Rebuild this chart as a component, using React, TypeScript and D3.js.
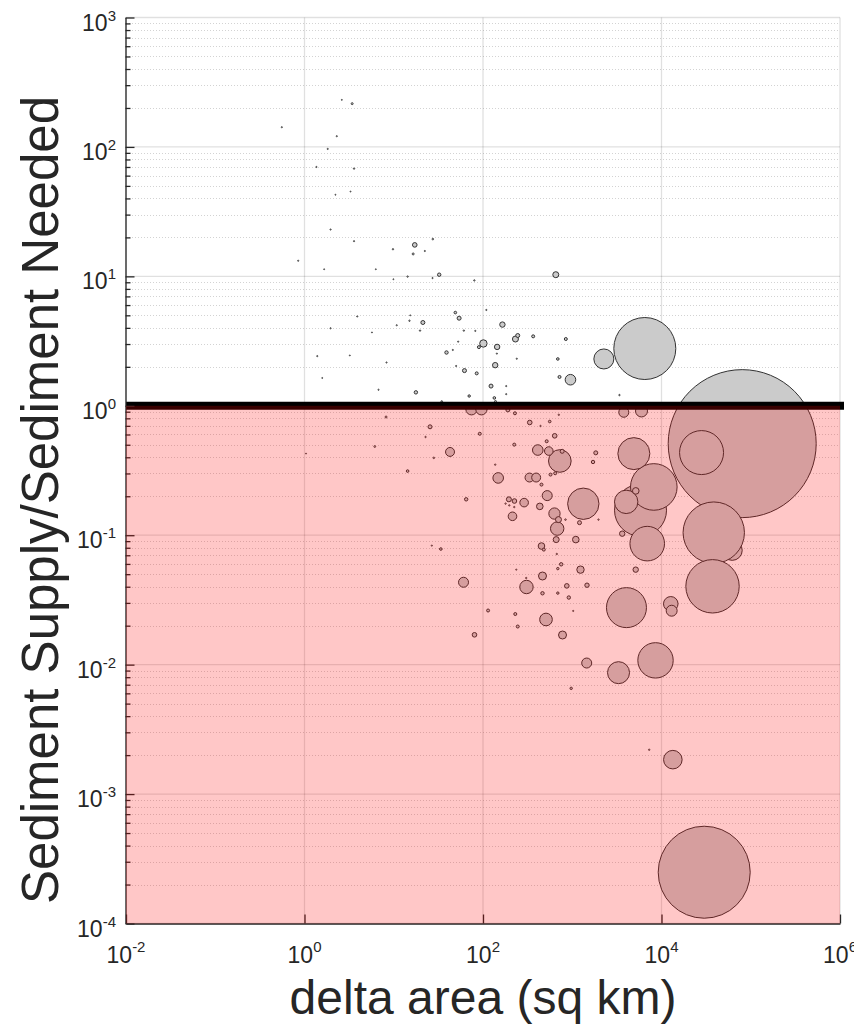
import { useRef, useEffect } from "react";
import * as d3 from "d3";

// delta area (sq km), sediment supply / sediment needed, bubble size (arbitrary units)
const deltaArea = [
    6500, 2260, 955, 654, 17.2, 27.4, 16.5, 22.3, 9.8, 3.59,
    32.3, 27.2, 14.3, 9.9, 80, 109, 49, 54, 3.9, 1.96,
    21.2, 15, 10.8, 19.7, 61, 82, 165, 245, 231, 365,
    847, 101, 90, 144, 52.7, 39, 45.9, 143, 239, 689,
    1.39, 5.7, 137, 50, 62, 85, 720, 8.3, 123, 182,
    182, 17.7, 6.75, 70, 134, 138, 34.5, 3380, 3.42, 2.62,
    0.557, 2.3, 1.82, 1.36, 3.59, 2.22, 3.28, 1.96, 0.85, 1.66,
    6.3, 3.22, 1.58, 15.3,
    80200, 28100, 4900, 8200, 5820, 4020, 5150, 1330, 6920, 38500,
    62000, 37300, 4050, 12700, 13000, 3630, 1096, 1237, 5140, 869,
    1463, 915, 778, 3780, 5970, 1835, 1709, 1206, 8570, 3300,
    1452, 508, 80.3, 114, 230, 245, 973, 13400, 7280, 30100,
    74.3, 96, 190, 228, 334, 25.5, 8.2, 92, 636, 707,
    559, 441, 517, 42.7, 224, 6.13, 411, 546, 726, 771,
    28.1, 14.3, 148, 332, 394, 571, 644, 452, 137, 524,
    64.8, 195, 225, 179, 197, 224, 289, 433, 214, 632,
    701, 840, 678, 661, 1968, 452, 480, 33.7, 26.7, 671,
    752, 689, 464, 305, 307, 60.5, 464, 689, 22.7, 1.04,
    236, 1025,
];

const supplyRatio = [
    2.77, 2.3, 1.59, 10.3, 17.5, 19.4, 14.9, 15.7, 16.2, 18.7,
    10.3, 9.7, 9.96, 9.5, 9.3, 5.5, 5.25, 4.75, 4.9, 3.97,
    4.4, 4.54, 4.19, 3.81, 3.81, 3.79, 4.24, 3.49, 3.28, 3.44,
    3.28, 3.03, 2.84, 2.85, 3.13, 2.58, 2.7, 2.53, 2.31, 2.3,
    2.42, 3.69, 2.06, 2.03, 1.87, 1.78, 1.67, 2.16, 1.42, 1.42,
    1.23, 1.27, 1.33, 1.19, 1.15, 1.08, 1.08, 1.21, 216, 231,
    142, 121, 96.5, 70, 68, 42.7, 45.2, 23, 13.2, 11.35,
    11.35, 2.45, 1.64, 5.0,
    0.51, 0.435, 0.427, 0.236, 0.156, 0.181, 0.22, 0.175, 0.0861, 0.1047,
    0.0764, 0.0403, 0.02757, 0.0295, 0.0261, 0.1028, 0.0925, 0.0542, 0.0542, 0.0406,
    0.0411, 0.033, 0.01694, 0.891, 0.912, 0.433, 0.368, 0.125, 0.01079, 0.00867,
    0.01029, 0.02233, 0.017, 0.0262, 0.0246, 0.0197, 0.00656, 0.001845, 0.0022, 0.000249,
    0.94, 0.94, 0.93, 0.875, 0.743, 0.688, 0.819, 0.608, 0.586, 0.852,
    0.756, 0.698, 0.532, 0.44, 0.501, 0.4845, 0.455, 0.447, 0.3745, 0.445,
    0.396, 0.313, 0.277, 0.279, 0.279, 0.294, 0.301, 0.246, 0.351, 0.2023,
    0.1894, 0.1894, 0.1837, 0.1755, 0.17, 0.165, 0.1786, 0.167, 0.14, 0.147,
    0.132, 0.132, 0.1125, 0.0925, 0.132, 0.0825, 0.0774, 0.0782, 0.0831, 0.0716,
    0.0596, 0.0552, 0.0484, 0.0467, 0.0398, 0.0433, 0.0356, 0.0357, 0.574, 0.427,
    0.0542, 0.026,
];

const bubbleSize = [
    961, 100, 28, 9, 5.3, 0.64, 1, 0.36, 0.49, 0.36,
    2.9, 0.36, 0.49, 0.25, 0.49, 0.36, 1.7, 4, 0.36, 0.36,
    4, 0.49, 0.36, 0.49, 0.49, 0.36, 7.3, 4, 9, 2.25,
    2.25, 13.7, 2.25, 7.3, 0.36, 2.9, 0.36, 0.36, 0.36, 1.7,
    0.36, 0.25, 7.3, 0.36, 4, 2.25, 2.25, 0.36, 4, 0.36,
    0.36, 2.9, 0.36, 1.44, 1.7, 1, 0.64, 0.49, 1, 0.25,
    0.36, 0.36, 0.36, 0.36, 0.49, 0.25, 0.25, 0.36, 0.36, 0.25,
    0.25, 0.25, 0.25, 0.25,
    5476, 484, 256, 543, 676, 137, 10.9, 246, 299, 942,
    100, 713, 400, 53, 30, 7.3, 10.9, 13.7, 7.3, 5.3,
    4.8, 2.9, 16, 25, 36, 4, 2.9, 4, 313, 121,
    25, 40, 5.3, 2.25, 2.25, 2.25, 1.44, 86, 0.49, 2116,
    32, 32, 4, 2.25, 5.3, 4, 1, 2.25, 5.3, 0.49,
    1.7, 0.49, 2.25, 20, 2.25, 0.81, 28, 18.5, 128, 4,
    0.64, 1.7, 28, 20, 20, 2.25, 2.25, 2.25, 0.49, 25,
    2.9, 6.25, 5.3, 0.49, 0.49, 0.49, 18.5, 10.9, 18.5, 32,
    9, 0.64, 45, 9, 0.49, 10.9, 2.25, 1.7, 0.36, 0.49,
    2.9, 1.44, 16, 0.49, 45, 25, 2.9, 1.44, 0.49, 0.25,
    0.36, 0.36,
];

const xTickExponents = [-2, 0, 2, 4, 6];
const yTickExponents = [3, 2, 1, 0, -1, -2, -3, -4];
const threshold = 1;

const FONT = "'Liberation Sans', Arial, Helvetica, sans-serif";
const INK = "#262626";

const App = () => {
    const svgRef = useRef(null);

    useEffect(() => {
        const width = 854;
        const height = 1025;
        const left = 126;
        const right = 840;
        const top = 17.5;
        const bottom = 923.5;

        const svg = d3.select(svgRef.current);
        svg.selectAll("*").remove();
        svg.attr("width", width).attr("height", height);

        const x = d3.scaleLog().domain([1e-2, 1e6]).range([left, right]);
        const y = d3.scaleLog().domain([1e-4, 1e3]).range([bottom, top]);
        const r = d3.scaleSqrt().domain([0, d3.max(bubbleSize)]).range([0, 74]);

        const yAll = y.ticks();
        const yMajor = yTickExponents.map((e) => Math.pow(10, e));
        const yMinor = yAll.filter((v) => !yMajor.some((m) => Math.abs(v / m - 1) < 1e-9));
        const xMajor = xTickExponents.map((e) => Math.pow(10, e));

        // GRID
        const grid = svg.append("g");
        grid.selectAll(".minor")
            .data(yMinor)
            .join("line")
            .attr("x1", left)
            .attr("x2", right)
            .attr("y1", (d) => Math.round(y(d)) + 0.5)
            .attr("y2", (d) => Math.round(y(d)) + 0.5)
            .attr("stroke", "#000")
            .attr("stroke-opacity", 0.22)
            .attr("stroke-width", 0.8)
            .attr("stroke-dasharray", "1,2");
        grid.selectAll(".ymajor")
            .data(yMajor)
            .join("line")
            .attr("x1", left)
            .attr("x2", right)
            .attr("y1", (d) => y(d))
            .attr("y2", (d) => y(d))
            .attr("stroke", "#000")
            .attr("stroke-opacity", 0.12)
            .attr("stroke-width", 1.3);
        grid.selectAll(".xmajor")
            .data(xMajor)
            .join("line")
            .attr("x1", (d) => x(d))
            .attr("x2", (d) => x(d))
            .attr("y1", top)
            .attr("y2", bottom)
            .attr("stroke", "#000")
            .attr("stroke-opacity", 0.12)
            .attr("stroke-width", 1.3);

        // BUBBLES (largest first so small ones sit on top)
        const points = deltaArea
            .map((a, i) => ({ a, s: supplyRatio[i], z: bubbleSize[i] }))
            .sort((p, q) => q.z - p.z);
        // this one sits behind its bigger neighbour in the original
        const hidden = points.findIndex((p) => p.a === 62000);
        points.unshift(points.splice(hidden, 1)[0]);

        svg.append("g")
            .selectAll("circle")
            .data(points)
            .join("circle")
            .attr("cx", (d) => x(d.a))
            .attr("cy", (d) => y(d.s))
            .attr("r", (d) => r(d.z))
            .attr("fill", "#cbcbcb")
            .attr("stroke", "#333")
            .attr("stroke-width", (d) => (r(d.z) < 1.2 ? 0.9 : 1));

        // THRESHOLD LINE
        svg.append("line")
            .attr("x1", x(1e-2))
            .attr("x2", x(1e6) + 4)
            .attr("y1", y(threshold))
            .attr("y2", y(threshold))
            .attr("stroke", "#000")
            .attr("stroke-width", 8);

        // AXES
        const axes = svg.append("g");
        axes.append("g")
            .attr("transform", `translate(${left - 0.5},0)`)
            .call(d3.axisLeft(y).tickValues(yMajor).tickSize(-9).tickSizeOuter(0).tickFormat(() => ""))
            .call((g) => g.selectAll("line,path").attr("stroke", INK).attr("stroke-width", 1.3));
        axes.append("g")
            .attr("transform", `translate(${left - 0.5},0)`)
            .call(d3.axisLeft(y).tickValues(yMinor).tickSize(-5).tickSizeOuter(0).tickFormat(() => ""))
            .call((g) => g.select(".domain").remove())
            .call((g) => g.selectAll("line").attr("stroke", INK).attr("stroke-width", 1.3));
        axes.append("g")
            .attr("transform", `translate(0,${bottom})`)
            .call(d3.axisBottom(x).tickValues(xMajor).tickSize(-9).tickSizeOuter(0).tickFormat(() => ""))
            .call((g) => g.selectAll("line,path").attr("stroke", INK).attr("stroke-width", 1.3));

        // RED "DEFICIT" REGION
        svg.append("rect")
            .attr("x", x(1e-2))
            .attr("width", x(1e6) - x(1e-2))
            .attr("y", y(threshold))
            .attr("height", y(1e-4) - y(threshold))
            .attr("fill", "#ff0000")
            .attr("fill-opacity", 0.22);

        // TICK LABELS
        const yl = svg.append("g")
            .attr("font-family", FONT)
            .attr("fill", INK);
        yTickExponents.forEach((e) => {
            const t = yl.append("text")
                .attr("x", 116)
                .attr("y", y(Math.pow(10, e)) + 13)
                .attr("text-anchor", "end");
            t.append("tspan").attr("font-size", 23).text("10");
            t.append("tspan").attr("font-size", 15).attr("dy", -10).text(String(e));
        });

        const xl = svg.append("g")
            .attr("font-family", FONT)
            .attr("fill", INK);
        xTickExponents.forEach((e) => {
            const t = xl.append("text")
                .attr("x", x(Math.pow(10, e)))
                .attr("y", 963)
                .attr("text-anchor", "middle");
            t.append("tspan").attr("font-size", 23).text("10");
            t.append("tspan").attr("font-size", 15).attr("dy", -11).text(String(e));
        });

        // AXIS TITLES
        svg.append("text")
            .attr("x", (left + right) / 2)
            .attr("y", 1014)
            .attr("text-anchor", "middle")
            .attr("font-family", FONT)
            .attr("font-size", 48)
            .attr("fill", INK)
            .text("delta area (sq km)");

        svg.append("text")
            .attr("transform", `translate(58, 500) rotate(-90)`)
            .attr("text-anchor", "middle")
            .attr("font-family", FONT)
            .attr("font-size", 51)
            .attr("fill", INK)
            .text("Sediment Supply/Sediment Needed");
    }, []);

    return (
        <>
            <style>{"body{margin:0;overflow:hidden}"}</style>
            <svg ref={svgRef} style={{ display: "block" }}></svg>
        </>
    );
};

export default App;
